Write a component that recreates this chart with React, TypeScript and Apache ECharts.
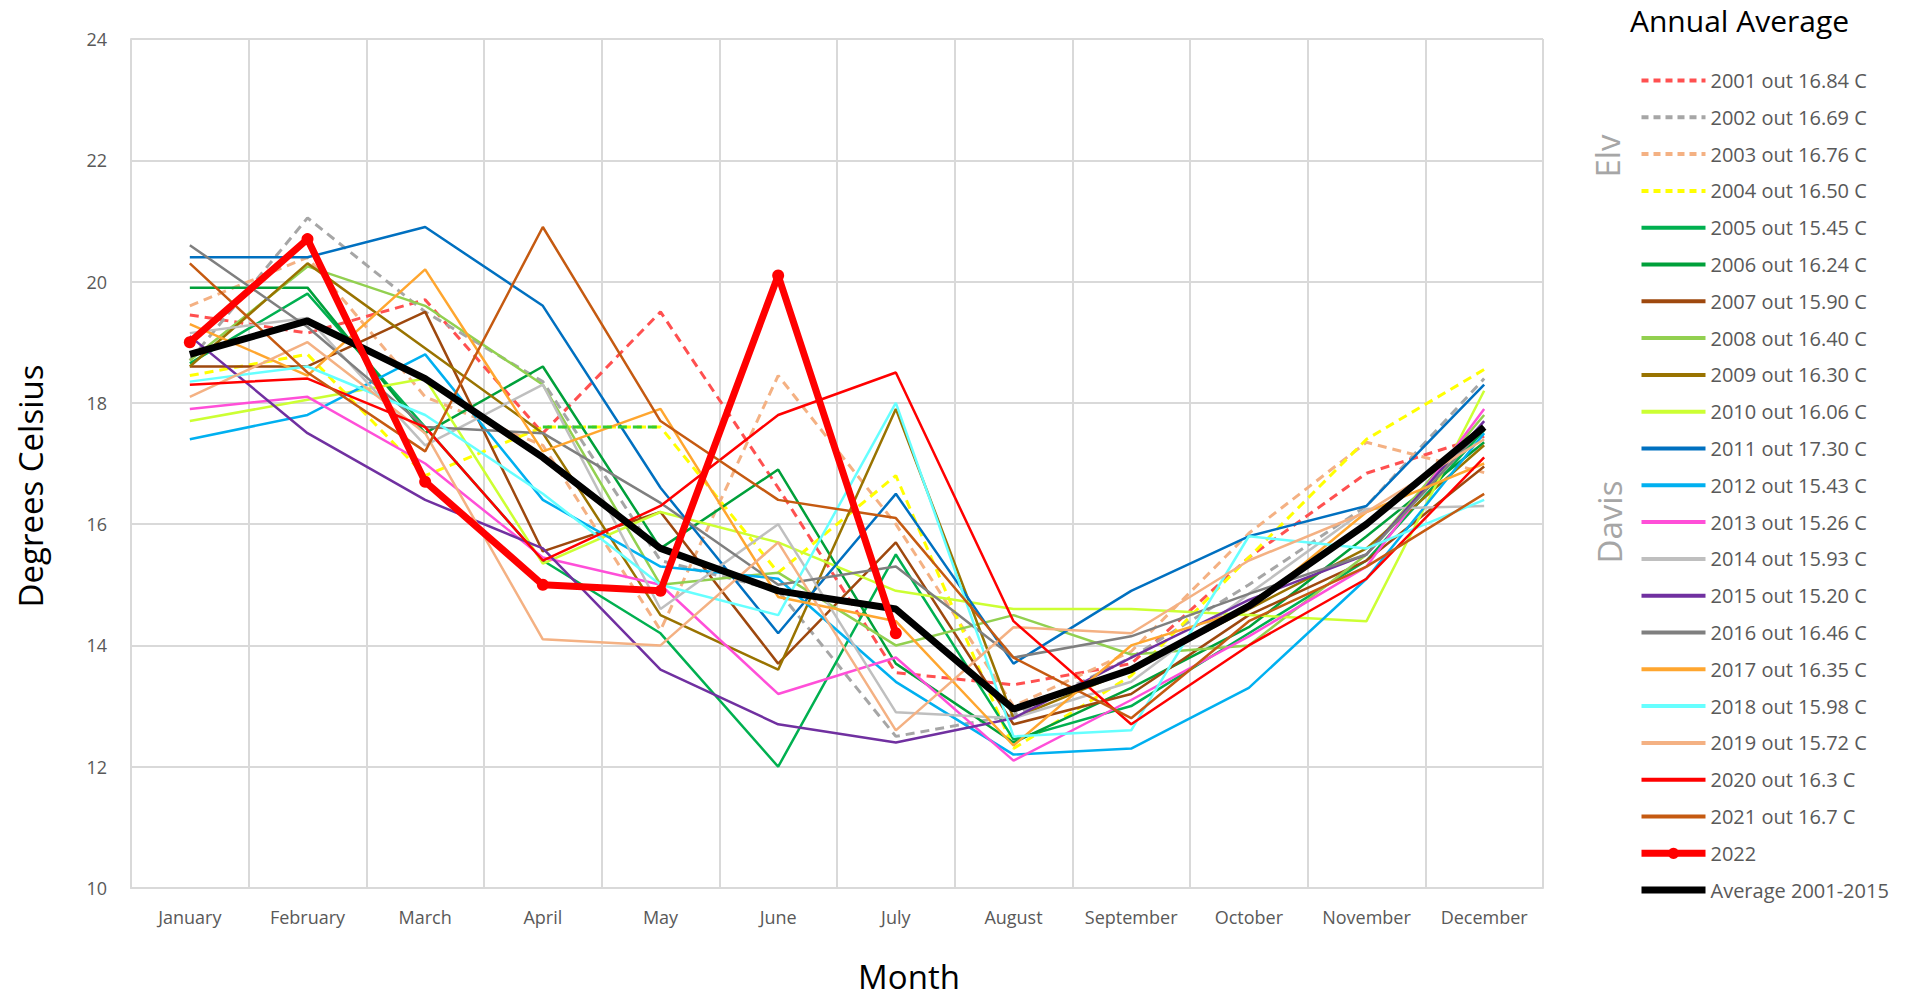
import React, { useEffect, useRef } from "react";
import * as echarts from "echarts";

const months = ["January", "February", "March", "April", "May", "June", "July", "August", "September", "October", "November", "December"];

const y2001 = [19.45, 19.15, 19.7, 17.5, 19.5, 16.6, 13.55, 13.35, 13.7, 15.45, 16.84, 17.45];
const y2002 = [18.7, 21.05, 19.5, 18.35, 15.4, 14.9, 12.5, 12.85, 13.8, 15.0, 16.3, 18.4];
const y2003 = [19.6, 20.4, 18.1, 17.3, 14.25, 18.45, 16.0, 13.0, 13.9, 15.85, 17.35, 16.85];
const y2004 = [18.45, 18.8, 16.8, 17.6, 17.6, 15.2, 16.8, 12.3, 13.5, 15.45, 17.4, 18.55];
const y2004seg = [null, null, null, 17.6, 17.6, null, null, null, null, null, null, null];
const y2005 = [18.65, 19.8, 17.6, 15.4, 14.2, 12.0, 15.5, 12.45, 13.0, 14.2, 15.4, 17.55];
const y2006 = [19.9, 19.9, 17.5, 18.6, 15.6, 16.9, 13.7, 12.4, 13.3, 14.3, 15.8, 17.35];
const y2007 = [18.6, 18.6, 19.5, 15.55, 16.2, 13.7, 15.7, 12.7, 13.2, 14.5, 15.4, 16.95];
const y2008 = [18.7, 20.25, 19.6, 18.3, 15.0, 15.2, 14.0, 14.5, 13.85, 14.0, 15.5, 17.8];
const y2009 = [18.6, 20.3, 18.9, 17.5, 14.5, 13.6, 17.9, 12.8, 13.6, 14.6, 15.6, 17.3];
const y2010 = [17.7, 18.05, 18.4, 15.35, 16.2, 15.7, 14.9, 14.6, 14.6, 14.5, 14.4, 18.2];
const y2011 = [20.4, 20.4, 20.9, 19.6, 16.6, 14.2, 16.5, 13.7, 14.9, 15.8, 16.3, 18.3];
const y2012 = [17.4, 17.8, 18.8, 16.4, 15.3, 15.1, 13.4, 12.2, 12.3, 13.3, 15.1, 17.5];
const y2013 = [17.9, 18.1, 17.0, 15.45, 15.0, 13.2, 13.8, 12.1, 13.1, 14.15, 15.3, 17.9];
const y2014 = [19.15, 19.4, 17.3, 18.3, 14.6, 16.0, 12.9, 12.8, 13.4, 14.85, 16.25, 16.3];
const y2015 = [19.1, 17.5, 16.4, 15.6, 13.6, 12.7, 12.4, 12.8, 13.8, 14.75, 15.5, 17.7];
const y2016 = [20.6, 19.25, 17.6, 17.5, 16.35, 15.0, 15.3, 13.8, 14.15, 14.85, 15.5, 17.6];
const y2017 = [19.3, 18.45, 20.2, 17.2, 17.9, 14.8, 14.4, 12.35, 14.0, 14.6, 16.2, 17.0];
const y2018 = [18.35, 18.6, 17.8, 16.5, 15.0, 14.5, 18.0, 12.5, 12.6, 15.8, 15.6, 16.4];
const y2019 = [18.1, 19.0, 17.5, 14.1, 14.0, 15.7, 12.6, 14.3, 14.2, 15.4, 16.2, 17.4];
const y2020 = [18.3, 18.4, 17.6, 15.4, 16.3, 17.8, 18.5, 14.4, 12.7, 14.0, 15.1, 17.1];
const y2021 = [20.3, 18.5, 17.2, 20.9, 17.7, 16.4, 16.1, 13.8, 12.8, 14.4, 15.3, 16.5];
const y2022 = [19.0, 20.7, 16.7, 15.0, 14.9, 20.1, 14.2];
const yAvg = [18.8, 19.35, 18.4, 17.1, 15.6, 14.9, 14.6, 12.95, 13.6, 14.65, 16.0, 17.6];

const yearSeries = [
  { name: "2001 out 16.84 C", data: y2001, color: "#FF5050", dashed: true },
  { name: "2002 out 16.69 C", data: y2002, color: "#A6A6A6", dashed: true },
  { name: "2003 out 16.76 C", data: y2003, color: "#F4B183", dashed: true },
  { name: "2004 out 16.50 C", data: y2004, color: "#FFFF00", dashed: true },
  { name: "2005 out 15.45 C", data: y2005, color: "#00B050", dashed: false },
  { name: "2006 out 16.24 C", data: y2006, color: "#00A03A", dashed: false },
  { name: "2007 out 15.90 C", data: y2007, color: "#9E480E", dashed: false },
  { name: "2008 out 16.40 C", data: y2008, color: "#92D050", dashed: false },
  { name: "2009 out 16.30 C", data: y2009, color: "#997300", dashed: false },
  { name: "2010 out 16.06 C", data: y2010, color: "#CCFF33", dashed: false },
  { name: "2011 out 17.30 C", data: y2011, color: "#0070C0", dashed: false },
  { name: "2012 out 15.43 C", data: y2012, color: "#00B0F0", dashed: false },
  { name: "2013 out 15.26 C", data: y2013, color: "#FF4FD8", dashed: false },
  { name: "2014 out 15.93 C", data: y2014, color: "#BFBFBF", dashed: false },
  { name: "2015 out 15.20 C", data: y2015, color: "#7030A0", dashed: false },
  { name: "2016 out 16.46 C", data: y2016, color: "#7F7F7F", dashed: false },
  { name: "2017 out 16.35 C", data: y2017, color: "#FFA62F", dashed: false },
  { name: "2018 out 15.98 C", data: y2018, color: "#66FFFF", dashed: false },
  { name: "2019 out 15.72 C", data: y2019, color: "#F4B183", dashed: false },
  { name: "2020 out 16.3 C", data: y2020, color: "#FF0000", dashed: false },
  { name: "2021 out 16.7 C", data: y2021, color: "#C55A11", dashed: false },
];

const FONT = "Open Sans";

export default function App() {
  const ref = useRef<HTMLDivElement>(null);
  useEffect(() => {
    if (!ref.current) return;
    const chart = echarts.init(ref.current, null, { renderer: "svg", width: 1905, height: 1001 });
    const dash = [9, 6];
    const series: any[] = yearSeries.map((s) => ({
      name: s.name,
      type: "line",
      data: s.data,
      symbol: "none",
      color: s.color,
      lineStyle: { color: s.color, width: s.dashed ? 3 : 2.5, type: s.dashed ? dash : "solid" },
    }));
    series.push({
      name: "2004 Apr-May",
      type: "line",
      data: y2004seg,
      symbol: "none",
      color: "#33CC33",
      lineStyle: { color: "#33CC33", width: 3, type: dash },
    });
    series.push({
      name: "Average 2001-2015",
      type: "line",
      data: yAvg,
      symbol: "none",
      color: "#000000",
      lineStyle: { color: "#000000", width: 7 },
    });
    series.push({
      name: "2022",
      type: "line",
      data: y2022,
      symbol: "circle",
      symbolSize: 12,
      color: "#FF0000",
      itemStyle: { color: "#FF0000" },
      lineStyle: { color: "#FF0000", width: 7 },
    });
    const hidden = { color: "rgba(0,0,0,0)", borderWidth: 0, borderColor: "rgba(0,0,0,0)", opacity: 0 };
    const legendData: any[] = yearSeries.map((s) => ({
      name: s.name,
      itemStyle: hidden,
      lineStyle: { width: 4, type: s.dashed ? [7, 5] : "solid", color: s.color },
    }));
    legendData.push({ name: "2022", lineStyle: { width: 7, color: "#FF0000" } });
    legendData.push({ name: "Average 2001-2015", itemStyle: hidden, lineStyle: { width: 7, color: "#000000" } });

    chart.setOption({
      animation: false,
      backgroundColor: "#ffffff",
      textStyle: { fontFamily: FONT },
      grid: { left: 131, top: 39, width: 1412, height: 849, containLabel: false },
      xAxis: {
        type: "category",
        data: months,
        boundaryGap: true,
        axisLine: { show: true, lineStyle: { color: "#D9D9D9", width: 2 } },
        axisTick: { show: false },
        splitLine: { show: true, lineStyle: { color: "#D9D9D9", width: 2 } },
        axisLabel: { color: "#595959", fontSize: 18, margin: 20, fontFamily: FONT, interval: 0 },
      },
      yAxis: {
        type: "value",
        min: 10,
        max: 24,
        interval: 2,
        axisLine: { show: true, lineStyle: { color: "#D9D9D9", width: 2 } },
        axisTick: { show: false },
        splitLine: { show: true, lineStyle: { color: "#D9D9D9", width: 2 } },
        axisLabel: { color: "#595959", fontSize: 18, margin: 24, fontFamily: FONT },
      },
      legend: {
        orient: "vertical",
        left: 1633,
        top: 65.5,
        itemWidth: 64,
        itemHeight: 14,
        itemGap: 16.8,
        data: legendData,
        textStyle: { fontSize: 20, lineHeight: 20, color: "#595959", fontFamily: FONT },
        selectedMode: false,
      },
      graphic: [
        { type: "text", x: 1630, y: 20, style: { text: "Annual Average", fontSize: 30, fill: "#000000", fontFamily: FONT, verticalAlign: "middle", align: "left" } },
        { type: "text", x: 1607, y: 156, rotation: Math.PI / 2, style: { text: "Elv", fontSize: 33, fill: "#A6A6A6", fontFamily: FONT, verticalAlign: "middle", align: "center" } },
        { type: "text", x: 1609, y: 522, rotation: Math.PI / 2, style: { text: "Davis", fontSize: 33, fill: "#A6A6A6", fontFamily: FONT, verticalAlign: "middle", align: "center" } },
        { type: "text", x: 30, y: 486, rotation: Math.PI / 2, style: { text: "Degrees Celsius", fontSize: 33, fill: "#000000", fontFamily: FONT, verticalAlign: "middle", align: "center" } },
        { type: "text", x: 909, y: 976, style: { text: "Month", fontSize: 33, fill: "#000000", fontFamily: FONT, verticalAlign: "middle", align: "center" } },
      ],
      series,
    });
    return () => chart.dispose();
  }, []);
  return <div ref={ref} style={{ position: "absolute", left: 0, top: 0, width: 1905, height: 1001, background: "#fff" }} />;
}
